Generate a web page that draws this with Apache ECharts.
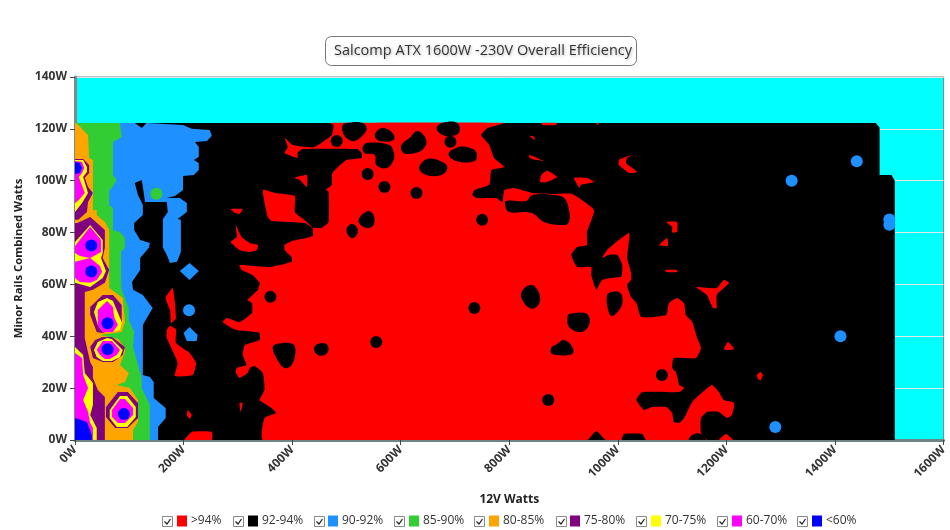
<!DOCTYPE html>
<html><head><meta charset="utf-8">
<style>html,body{margin:0;padding:0;background:#fff}#c{width:950px;height:530px}</style>
<script src="https://cdn.jsdelivr.net/npm/echarts@6/dist/echarts.min.js"></script>
</head><body><div id="c"></div>
<script>
const titleText = 'Salcomp ATX 1600W -230V Overall Efficiency';
const xName = '12V Watts', yName = 'Minor Rails Combined Watts';
const classNames = ['>94%','92-94%','90-92%','85-90%','80-85%','75-80%','70-75%','60-70%','<60%'];
const classColors = ['#ff0000','#000000','#1e90ff','#32cd32','#ffa500','#800080','#ffff00','#ff00ff','#0000ff'];

// regions in watts: [12V W, minor rails W]
const blackBase = [[[0,0],[1510,0],[1510,100],[1504,102.2],[1482,102.2],[1482,120.5],[1475,122.3],[0,122.3]]];

const redMain = [[469,122.3],[791,122.3],[760,120.3],[748,117.6],[763,113.8],[772,108.8],[791,105.3],[767,104.1],[763,98.4],[736,96.4],[732,94.5],[741,93.3],[776,93.3],[787,91.8],[791,96.4],[809,97.2],[842,95.3],[886,94.9],[916,94.9],[956,88.7],[943,80.2],[943,75.2],[925,74.4],[914,71.4],[925,66.7],[951,66.7],[951,63.6],[960,57.9],[971,61.7],[1008,62.9],[1024,61.7],[1017,59.8],[1024,55.2],[1034,52.8],[1043,47.4],[1089,48.2],[1094,52.8],[1109,54.8],[1122,52.8],[1125,48.2],[1137,45.5],[1146,39.3],[1153,35.5],[1144,31.6],[1103,31.6],[1100,27.8],[1107,26.2],[1113,21.2],[1122,20.1],[1113,18.5],[1045,18.5],[1034,15.4],[1048,11.6],[1063,12.7],[1089,12.7],[1100,10.4],[1103,6.9],[1113,6.6],[1122,8.5],[1137,14.7],[1173,21.2],[1186,18.5],[1195,15.4],[1214,14.3],[1210,9.6],[1201,8.5],[1186,10.8],[1164,10.8],[1153,8.5],[1153,2.7],[1164,0],[1052,0],[1045,2.3],[1011,2.3],[1006,0],[978,0],[960,3.5],[943,0],[346,0],[349,8.5],[370,10.4],[362,12.3],[340,15.4],[349,19.3],[346,25.8],[331,28.5],[322,27.8],[318,25.8],[303,23.9],[296,26.2],[298,27.8],[316,28.9],[309,32.8],[313,36.6],[340,38.6],[340,41.3],[331,41.7],[298,42.4],[285,43.6],[272,45.5],[280,47.1],[303,45.5],[326,49],[326,52.8],[318,54],[337,57.9],[340,60.6],[327,63.6],[307,65.6],[303,67.5],[359,66.7],[399,68.7],[399,70.6],[386,73.3],[386,75.2],[401,76.8],[438,78.7],[438,81.8],[454,81.8],[467,84.1],[467,95.7],[462,96.4],[473,98.4],[474,103],[500,108],[528,108.8],[528,110.7],[519,112.2],[419,112.2],[410,110.7],[410,108.8],[386,110.7],[392,113],[386,116.5],[401,113.8],[441,113],[473,117.6],[476,121.5]];
const redStripe = [[971,70.2],[980,73.3],[997,76.4],[1021,79.8],[1017,70.2],[1024,64.8],[1024,61.7],[975,62.5],[1006,62.9],[1008,67.5],[999,71.4],[984,71.4]];
const redIslands = [
 [[346,96.4],[368,95.3],[405,94.1],[405,87.9],[427,84.1],[438,81.8],[423,83.7],[362,84.5],[355,86]],
 [[403,101.1],[427,102.2],[427,97.6],[414,100.3]],
 [[287,89.1],[309,89.1],[303,87.2],[294,87.6]],
 [[296,82.9],[307,78.3],[322,76],[337,75.2],[335,73.3],[322,72.5],[303,73.3],[287,76.4],[298,78.3]],
 [[167,54.8],[180,58.6],[186,47.1],[177,45.1],[175,50.1]],
 [[175,44],[186,42.8],[186,37.4],[211,33.6],[223,29.7],[217,25.1],[184,24.7],[189,29.7],[175,36.6],[169,39.3],[169,42.4]],
 [[208,11.6],[215,9.6],[211,8.1],[206,9.6]],
 [[202,0],[215,3.1],[252,3.1],[252,0]],
 [[303,14.3],[309,14.3],[305,10.8]],
 [[837,109.9],[851,108.8],[864,107.6],[850,108],[837,108.8]],
 [[837,117.3],[846,116.9],[846,115.7]],
 [[859,122.3],[888,122.3],[886,121.5],[861,121.5]],
 [[859,102.2],[870,103.8],[888,101.4],[870,99.5],[857,99.5]],
 [[919,101.1],[942,101.1],[956,99.5],[932,98.4],[929,97.2]],
 [[1015,109.2],[1028,109.9],[1017,108.8],[1015,106.8],[1035,103.4],[1021,103],[1002,106.1],[1002,108]],
 [[1089,84.1],[1109,84.1],[1109,80.2],[1100,80.2],[1100,82.2]],
 [[1076,75.2],[1091,77.9],[1092,74.8]],
 [[1087,65.6],[1109,65.6],[1109,64.8],[1089,64.8]],
 [[960,122.3],[965,122.3],[962,121.5]],
 [[1144,59],[1182,58.6],[1195,61.7],[1205,60.6],[1182,55.9],[1182,50.9],[1175,50.9],[1164,55.9]],
 [[1195,35.1],[1203,37.8],[1214,35.1],[1203,34.7]],
 [[1256,25.1],[1263,26.2],[1267,25.1],[1263,23.1],[1258,23.5]],
 [[1186,0],[1199,2.3],[1212,0]]
];
const blackHoles = [
 [[493,121.5],[502,122.3],[530,122.3],[537,119.6],[515,115.3],[500,116.5],[493,118.8]],
 [[552,117.6],[566,120.3],[585,118.4],[587,115.7],[561,115.3]],
 [[530,113],[539,114.6],[579,113.8],[587,111.1],[587,108],[574,104.9],[555,106.1],[552,109.9],[533,110.7]],
 [[601,113.8],[616,116.5],[631,119.2],[647,115.7],[640,111.9],[616,110.3],[603,111.1]],
 [[522,84.5],[539,88.3],[550,86.8],[550,82.9],[537,81.8]],
 [[500,81],[509,83.3],[520,81.8],[519,79.1],[509,77.9]],
 [[666,120.3],[677,122.3],[704,122.3],[708,118.8],[695,117.3],[677,117.6]],
 [[688,110.3],[702,112.6],[721,113],[739,111.1],[736,107.6],[702,107.6]],
 [[634,104.9],[649,108.4],[677,107.2],[686,104.9],[675,102.2],[647,102.2]],
 [[794,92.2],[831,92.2],[842,94.5],[883,94.5],[901,93.3],[910,88.7],[910,84.1],[901,82.9],[864,84.1],[840,87.6],[800,87.9],[793,89.9]],
 [[364,35.5],[371,37],[401,37],[406,33.9],[399,28.9],[386,27.8],[373,30.9]],
 [[440,35.1],[447,37],[463,37],[467,34.7],[460,32.8],[447,32.8]],
 [[822,56.7],[833,59.4],[846,59.4],[857,54.8],[850,51.3],[837,50.9],[824,54]],
 [[907,47.4],[910,48.6],[943,48.6],[947,44.4],[932,41.7],[910,43.6]],
 [[877,35.5],[888,37],[901,38.6],[916,35.9],[916,33.2],[879,33.2]],
 [[980,55.9],[988,57.1],[1002,57.1],[1008,55.2],[1006,51.3],[989,47.8],[982,50.1]],
 [[1131,0],[1140,2.3],[1153,2.3],[1162,0]]
];
const blackDots = [[482,115.3],[539,102.6],[570,97.6],[629,95.3],[691.5,115],[750,84.9],[360,55.2],[555,37.8],[735.6,50.9],[871.7,15.4],[1081,25.1]];

const bluePolys = [
 [[0,122.3],[110,122.3],[123,120.3],[132,122.3],[199,121.5],[215,120],[248,119.6],[252,117.3],[243,115.3],[221,114.9],[228,113],[228,109.2],[219,108],[228,106.8],[228,104.1],[219,102.2],[199,101.8],[199,96.4],[184,94.1],[169,93.3],[193,93.3],[206,91.4],[206,87.9],[189,85.2],[195,84.9],[195,72.5],[188,68.7],[175,68.3],[169,71.4],[162,74.1],[162,85.2],[171,87.9],[169,91.8],[129,91.8],[125,97.6],[123,100.3],[110,99.1],[116,94.5],[125,90.6],[125,86.8],[109,83.7],[109,81],[120,77.1],[138,76],[136,74.1],[120,70.2],[120,65.6],[105,60.9],[107,57.9],[125,55.9],[143,50.9],[125,44.4],[125,25.1],[138,24.3],[145,22.4],[145,16.2],[167,12.3],[167,8.5],[153,5],[153,0],[0,0]],
 [[193,65.2],[211,68.3],[228,65.2],[211,61.7]],
 [[200,41.3],[211,43.6],[226,40.5],[224,38.2],[206,38.2]]
];
const blueDots = [[1440,107.5],[1320,100],[1500,85],[1500,83],[1410,40],[1290,5],[210,50]];

const greenPolys = [[[0,122.3],[83,122.3],[86,116.9],[70,114.9],[70,102.2],[77,100.3],[68,97.2],[63,96.4],[63,90.6],[70,89.5],[70,81],[83,80.2],[92,77.9],[92,74.1],[85,72.5],[85,62.5],[86,57.9],[99,50.9],[99,46.3],[109,41.7],[107,35.9],[123,23.9],[123,20.1],[138,13.5],[138,0],[0,0]]];
const greenDots = [[150,95]];

const orangePolys = [[[0,122.3],[4,121.9],[24,117.6],[26,108.8],[33,108],[33,88.7],[40,88.7],[40,86.8],[55,84.1],[63,81],[63,58.6],[88,54.8],[92,45.5],[86,41.7],[46,40.5],[79,39],[92,35.9],[92,33.9],[83,28.9],[99,25.8],[92,22.4],[77,21.2],[101,20.1],[116,15.4],[116,6.9],[107,3.9],[107,0],[0,0]]];

const purplePolys = [
 [[0,108.4],[15,108.4],[26,106.1],[26,103],[18,101.1],[24,97.6],[33,95.3],[24,91.8],[22,87.9],[6,84.9],[0,84.9]],
 [[0,83.7],[4,83.7],[28,86],[55,81],[55,74.1],[51,70.2],[63,65.6],[55,60.6],[33,57.9],[18,57.1],[18,39.3],[28,30.1],[33,28.2],[33,23.9],[42,19.3],[55,16.6],[55,0],[0,0]],
 [[28,51.3],[51,55.9],[70,55.9],[86,52.1],[86,45.5],[70,42.4],[50,41.3],[40,41.7],[28,48.2]],
 [[28,35.9],[37,38.6],[51,39.7],[68,39.7],[92,35.9],[88,32.8],[70,30.1],[51,30.1],[33,31.6]],
 [[57,12.7],[79,18.5],[97,18.5],[116,14.3],[116,8.5],[97,4.6],[74,4.6],[57,8.9]]
];
const yellowPolys = [
 [[0,108],[15,108],[22,105.3],[22,103.4],[15,101.4],[24,95.3],[13,91.4],[0,87.9]],
 [[0,76.4],[28,82.9],[51,77.1],[51,72.1],[48,70.2],[57,65.2],[51,62.5],[28,59],[0,60.6]],
 [[35,49.4],[42,53.2],[59,54.8],[70,53.6],[86,45.5],[83,42.4],[70,41.7],[51,41.7],[42,44.4]],
 [[35,34.7],[42,37.8],[59,39.3],[68,39],[88,34.7],[83,32],[68,30.5],[51,30.5],[40,32]],
 [[64,11.6],[83,17],[96,17],[112,12.7],[112,8.9],[96,5],[77,5],[64,8.5]],
 [[0,35.9],[15,32.8],[18,25.8],[33,22],[33,13.5],[28,9.6],[40,4.6],[40,0],[0,0]]
];
const magentaPolys = [
 [[0,107.6],[13,107.2],[17,104.9],[13,103],[7,101.4],[18,95.3],[7,92.6],[0,91.4]],
 [[0,74.8],[28,82.2],[48,77.1],[48,72.5],[28,70.2],[9,71],[0,72.1]],
 [[0,68.7],[28,70.2],[46,67.1],[50,64.8],[40,61.7],[28,60.6],[9,60.9],[0,62.5]],
 [[42,50.1],[59,53.6],[70,51.3],[72,47.4],[79,44.4],[70,41.7],[51,41.7],[42,44.4]],
 [[40,34.7],[51,38.2],[68,38.2],[83,34.7],[77,32.8],[64,31.2],[55,31.2],[46,32.8]],
 [[68,11.6],[83,15.8],[92,15.8],[107,12.3],[107,9.6],[92,6.6],[79,6.6],[68,8.9]],
 [[0,33.6],[13,31.6],[15,25.1],[24,20.1],[15,15.4],[24,10.8],[28,6.6],[33,4.6],[33,0],[0,0]]
];
const deepBluePolys = [
 [[0,8.5],[22,6.9],[31,1.9],[31,0],[0,0]],
 [[0,107.2],[9,106.8],[13,104.9],[9,103],[0,102.6]]
];
const deepBlueDots = [[30,75],[30,65],[60,45],[60,35],[90,10]];

const xTicks = {min:0,max:1600,interval:200};
const yTicks = {min:0,max:140,interval:20};
const legendLefts = [177,248,328,409,489,570,651,732,812];
const checkCenters = [167,238,319,399,479,561,641,722,802];

const font = '"Open Sans", sans-serif';
function polySeries(cls, polys, smooth){
  return {type:'custom',name:classNames[cls],coordinateSystem:'cartesian2d',clip:true,silent:true,
    itemStyle:{color:classColors[cls]},
    data:polys.map(p=>p[0]),
    renderItem:(params,api)=>({type:'polygon',
      shape:{points:polys[params.dataIndex].map(v=>api.coord(v)),smooth:smooth||0},
      style:{fill:classColors[cls]}})};
}
function dotSeries(cls, pts){
  return {type:'scatter',name:classNames[cls],data:pts,symbol:'circle',symbolSize:12,silent:true,clip:true,
    itemStyle:{color:classColors[cls],opacity:1}};
}
const checks = checkCenters.map(cx=>({type:'group',left:cx-5,top:516,children:[
  {type:'rect',shape:{x:0,y:0,width:10,height:10},style:{fill:'#fff',stroke:'#8a8a8a',lineWidth:1}},
  {type:'polyline',shape:{points:[[2,5],[4.5,7.5],[8,2.5]]},style:{stroke:'#222',fill:null,lineWidth:1.3}}
]}));
const chart = echarts.init(document.getElementById('c'),null,{renderer:'canvas'});
chart.setOption({
  animation:false,
  title:{text:titleText,left:325,top:36,padding:[7,5,8,9],borderColor:'#777',borderWidth:1,borderRadius:6,backgroundColor:'#fff',
    textStyle:{fontFamily:font,fontSize:14.5,fontWeight:'normal',color:'#333',textShadowColor:'rgba(0,0,0,.3)',textShadowBlur:3,textShadowOffsetX:1,textShadowOffsetY:1}},
  grid:{left:75,right:5,top:77,bottom:90,show:true,backgroundColor:'#00ffff',borderColor:'#6f8585',borderWidth:1},
  xAxis:{type:'value',...xTicks,name:xName,nameLocation:'middle',nameGap:54,
    nameTextStyle:{fontFamily:font,fontWeight:'bold',fontSize:12,color:'#222'},
    axisLine:{show:true,lineStyle:{color:'#6f8585',width:3}},axisTick:{show:true,length:5,lineStyle:{color:'#444'}},
    axisLabel:{rotate:45,fontFamily:font,fontWeight:'bold',fontSize:12,color:'#333',formatter:v=>v+'W',margin:8},
    splitLine:{show:false}},
  yAxis:{type:'value',...yTicks,name:yName,nameLocation:'middle',nameGap:44,
    nameTextStyle:{fontFamily:font,fontWeight:'bold',fontSize:11.3,color:'#222'},
    axisLine:{show:true,lineStyle:{color:'#808888',width:3}},axisTick:{show:true,length:5,lineStyle:{color:'#444'}},
    axisLabel:{fontFamily:font,fontWeight:'bold',fontSize:12,color:'#333',formatter:v=>v+'W',margin:8,padding:[5,0,0,0]},
    splitLine:{show:true,lineStyle:{color:'#e6e6e6',width:1}}},
  legend:classNames.map((n,i)=>({data:[n],left:legendLefts[i],top:515,padding:0,itemWidth:10,itemHeight:11,itemGap:0,icon:'rect',selectedMode:false,
    textStyle:{fontFamily:font,fontSize:12,color:'#333',padding:[0,0,0,-1]}})),
  graphic:checks,
  series:[
    polySeries(1,blackBase),
    polySeries(0,[redMain,redStripe,...redIslands],0.15),
    polySeries(1,blackHoles,0.4),
    dotSeries(1,blackDots),
    polySeries(2,bluePolys),
    dotSeries(2,blueDots),
    polySeries(3,greenPolys),
    dotSeries(3,greenDots),
    polySeries(4,orangePolys),
    polySeries(5,purplePolys),
    polySeries(6,yellowPolys),
    polySeries(7,magentaPolys),
    polySeries(8,deepBluePolys),
    dotSeries(8,deepBlueDots)
  ]
});
</script></body></html>
